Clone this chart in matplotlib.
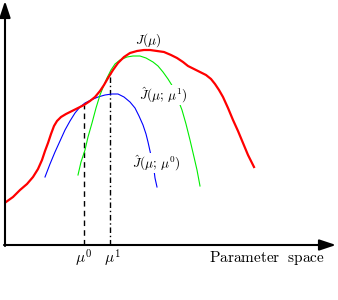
import matplotlib.pyplot as plt

plt.rcParams['mathtext.fontset'] = 'cm'
plt.rcParams['font.family'] = 'serif'
plt.rcParams['font.serif'] = ['DejaVu Serif']

# curves sampled in parameter space (x = parameter, y = objective value)
red_x = [1, 8, 15, 22, 28, 33, 37, 40, 43, 46, 49, 52, 56, 61, 67, 73, 79, 85,
         90, 95, 99, 103, 108, 113, 119, 125, 132, 139, 145, 152, 159, 166, 172,
         178, 183, 189, 195, 201, 206, 210, 214, 218, 223, 228, 233, 238, 243, 249]
red_y = [43, 48, 55, 61, 68, 76, 85, 94, 102, 111, 119, 124, 128, 131, 134, 137,
         140, 144, 148, 154, 160, 167, 175, 182, 188, 192, 194, 195, 195, 194,
         193, 190, 187, 183, 179, 176, 173, 170, 166, 161, 155, 148, 137, 125,
         114, 102, 90, 78]

blue_x = [40, 45, 50, 55, 60, 65, 70, 75, 80, 86, 93, 100, 107, 113, 119, 125,
          130, 134, 138, 141, 143, 145, 147, 149, 150, 152]
blue_y = [68, 81, 93, 104, 115, 124, 132, 138, 142, 145, 148, 150, 151, 151, 148,
          143, 137, 129, 120, 111, 103, 94, 85, 75, 67, 58]

green_x = [73, 76, 80, 83, 87, 91, 95, 99, 102, 106, 110, 115, 122, 128, 135,
           141, 148, 153, 158, 163, 168, 172, 177, 181, 185, 189, 192, 195]
green_y = [70, 83, 95, 108, 122, 137, 150, 160, 167, 175, 181, 185, 188, 189,
           189, 187, 183, 179, 173, 166, 158, 148, 135, 121, 105, 88, 75, 59]

mu0, mu0_top = 79, 140
mu1, mu1_top = 105, 173

fig = plt.figure(figsize=(3.38, 3.0), dpi=100)
ax = fig.add_axes([0, 0, 1, 1])
ax.set_xlim(-5, 333)
ax.set_ylim(-55, 245)
ax.axis('off')

ax.plot(red_x, red_y, color='#ff0000', lw=1.6, zorder=3, solid_joinstyle='round')
ax.plot(blue_x, blue_y, color='#0000ff', lw=0.8, zorder=2)
ax.plot(green_x, green_y, color='#00ee00', lw=0.8, zorder=2)

ax.plot([mu0, mu0], [0, mu0_top], color='black', lw=1.0, ls=(0, (4, 3)), zorder=1)
ax.plot([mu1, mu1], [0, mu1_top], color='black', lw=1.0, ls=(0, (4, 2, 1, 2)), zorder=1)

# axes arrows
arrow = dict(arrowstyle='-|>,head_length=0.9,head_width=0.3', lw=1.5,
             color='black', mutation_scale=11, shrinkA=0, shrinkB=0)
ax.annotate('', xy=(331, 0), xytext=(-1, 0), arrowprops=arrow)
ax.annotate('', xy=(0, 244), xytext=(0, -1), arrowprops=arrow)

box = dict(facecolor='white', edgecolor='none', pad=0.3)
ax.text(143, 205, r'$J(\mu)$', fontsize=9.5, ha='center', va='center', zorder=4)
ax.text(158, 150, r'$\hat{J}(\mu;\,\mu^1)$', fontsize=9.5, ha='center', va='center',
        zorder=4, bbox=box)
ax.text(151, 82, r'$\hat{J}(\mu;\,\mu^0)$', fontsize=9.5, ha='center', va='center',
        zorder=4, bbox=box)

ax.text(mu0, -13, r'$\mu^0$', fontsize=11, ha='center', va='center')
ax.text(mu1 + 2, -13, r'$\mu^1$', fontsize=11, ha='center', va='center')
ax.text(262, -13, r'$\mathrm{Parameter\ \ space}$', fontsize=11, ha='center', va='center')

fig.savefig('out.png', dpi=100)
